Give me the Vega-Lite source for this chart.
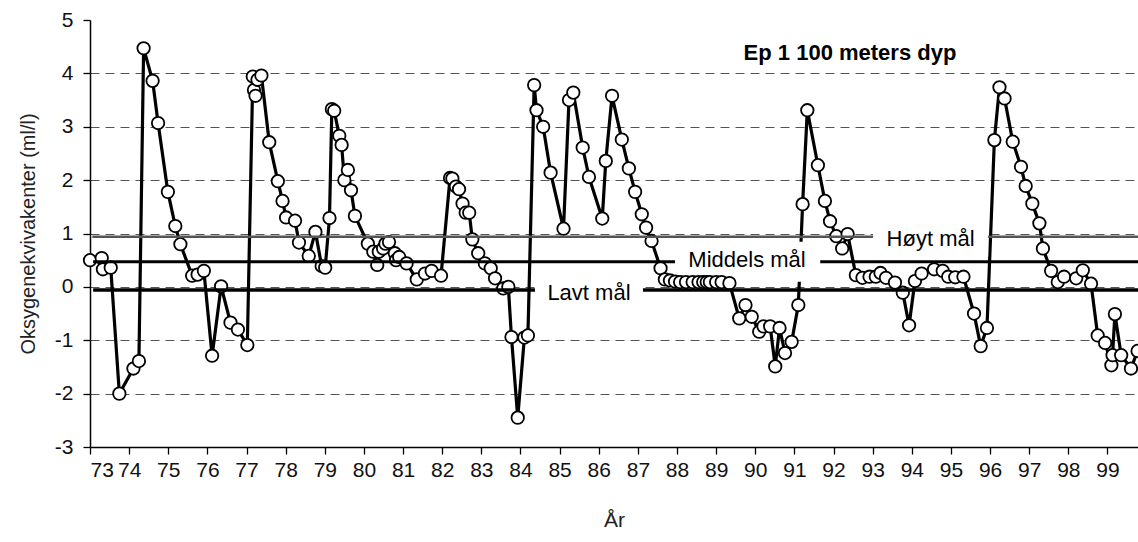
{
  "$schema": "https://vega.github.io/schema/vega-lite/v6.json",
  "width": 1048,
  "height": 427,
  "autosize": {"type": "none"},
  "padding": {"left": 90, "top": 20, "right": 0, "bottom": 95},
  "background": "white",
  "config": {
    "view": {"stroke": null},
    "font": "Liberation Sans",
    "axis": {"labelFont": "Liberation Sans", "titleFont": "Liberation Sans", "labelColor": "#111", "titleColor": "#222", "titleFontWeight": "normal"}
  },
  "datasets": {
    "obs": [
      {"year": 73.00, "o2": 0.50}, {"year": 73.30, "o2": 0.54}, {"year": 73.33, "o2": 0.33}, {"year": 73.53, "o2": 0.36},
      {"year": 73.75, "o2": -2.00}, {"year": 74.11, "o2": -1.53}, {"year": 74.25, "o2": -1.39}, {"year": 74.37, "o2": 4.47},
      {"year": 74.60, "o2": 3.86}, {"year": 74.74, "o2": 3.07}, {"year": 74.99, "o2": 1.78}, {"year": 75.18, "o2": 1.14},
      {"year": 75.31, "o2": 0.80}, {"year": 75.61, "o2": 0.21}, {"year": 75.75, "o2": 0.23}, {"year": 75.91, "o2": 0.30},
      {"year": 76.12, "o2": -1.29}, {"year": 76.35, "o2": 0.01}, {"year": 76.59, "o2": -0.67}, {"year": 76.78, "o2": -0.80},
      {"year": 77.02, "o2": -1.09}, {"year": 77.16, "o2": 3.94}, {"year": 77.19, "o2": 3.69}, {"year": 77.23, "o2": 3.58},
      {"year": 77.28, "o2": 3.88}, {"year": 77.38, "o2": 3.96}, {"year": 77.58, "o2": 2.71}, {"year": 77.80, "o2": 1.98},
      {"year": 77.92, "o2": 1.61}, {"year": 78.01, "o2": 1.30}, {"year": 78.24, "o2": 1.24}, {"year": 78.34, "o2": 0.83},
      {"year": 78.59, "o2": 0.58}, {"year": 78.76, "o2": 1.03}, {"year": 78.92, "o2": 0.39}, {"year": 79.01, "o2": 0.36},
      {"year": 79.12, "o2": 1.29}, {"year": 79.18, "o2": 3.33}, {"year": 79.24, "o2": 3.30}, {"year": 79.37, "o2": 2.83},
      {"year": 79.43, "o2": 2.66}, {"year": 79.50, "o2": 2.00}, {"year": 79.59, "o2": 2.19}, {"year": 79.67, "o2": 1.81},
      {"year": 79.77, "o2": 1.33}, {"year": 80.10, "o2": 0.81}, {"year": 80.24, "o2": 0.66}, {"year": 80.34, "o2": 0.41},
      {"year": 80.38, "o2": 0.66}, {"year": 80.49, "o2": 0.72}, {"year": 80.55, "o2": 0.81}, {"year": 80.64, "o2": 0.84},
      {"year": 80.79, "o2": 0.63}, {"year": 80.82, "o2": 0.50}, {"year": 80.90, "o2": 0.56}, {"year": 81.09, "o2": 0.44},
      {"year": 81.35, "o2": 0.14}, {"year": 81.56, "o2": 0.25}, {"year": 81.73, "o2": 0.30}, {"year": 81.97, "o2": 0.21},
      {"year": 82.20, "o2": 2.04}, {"year": 82.26, "o2": 2.03}, {"year": 82.35, "o2": 1.88}, {"year": 82.43, "o2": 1.83},
      {"year": 82.52, "o2": 1.56}, {"year": 82.60, "o2": 1.39}, {"year": 82.69, "o2": 1.39}, {"year": 82.77, "o2": 0.89},
      {"year": 82.92, "o2": 0.63}, {"year": 83.09, "o2": 0.44}, {"year": 83.24, "o2": 0.35}, {"year": 83.35, "o2": 0.16},
      {"year": 83.56, "o2": -0.03}, {"year": 83.69, "o2": 0.00}, {"year": 83.77, "o2": -0.94}, {"year": 83.93, "o2": -2.45},
      {"year": 84.10, "o2": -0.95}, {"year": 84.19, "o2": -0.91}, {"year": 84.35, "o2": 3.78}, {"year": 84.41, "o2": 3.31},
      {"year": 84.58, "o2": 3.00}, {"year": 84.77, "o2": 2.14}, {"year": 85.10, "o2": 1.09}, {"year": 85.24, "o2": 3.50},
      {"year": 85.35, "o2": 3.64}, {"year": 85.59, "o2": 2.61}, {"year": 85.75, "o2": 2.06}, {"year": 86.09, "o2": 1.28},
      {"year": 86.18, "o2": 2.36}, {"year": 86.34, "o2": 3.58}, {"year": 86.59, "o2": 2.76}, {"year": 86.77, "o2": 2.22},
      {"year": 86.93, "o2": 1.78}, {"year": 87.10, "o2": 1.36}, {"year": 87.21, "o2": 1.11}, {"year": 87.35, "o2": 0.86},
      {"year": 87.58, "o2": 0.35}, {"year": 87.69, "o2": 0.14}, {"year": 87.82, "o2": 0.12}, {"year": 87.95, "o2": 0.10},
      {"year": 88.08, "o2": 0.09}, {"year": 88.23, "o2": 0.09}, {"year": 88.40, "o2": 0.09}, {"year": 88.55, "o2": 0.09},
      {"year": 88.67, "o2": 0.09}, {"year": 88.76, "o2": 0.09}, {"year": 88.84, "o2": 0.09}, {"year": 89.00, "o2": 0.09},
      {"year": 89.14, "o2": 0.09}, {"year": 89.34, "o2": 0.07}, {"year": 89.59, "o2": -0.59}, {"year": 89.75, "o2": -0.34},
      {"year": 89.91, "o2": -0.56}, {"year": 90.10, "o2": -0.84}, {"year": 90.21, "o2": -0.74}, {"year": 90.38, "o2": -0.74},
      {"year": 90.51, "o2": -1.49}, {"year": 90.62, "o2": -0.77}, {"year": 90.76, "o2": -1.24}, {"year": 90.93, "o2": -1.03},
      {"year": 91.10, "o2": -0.34}, {"year": 91.21, "o2": 1.55}, {"year": 91.33, "o2": 3.31}, {"year": 91.60, "o2": 2.28},
      {"year": 91.78, "o2": 1.61}, {"year": 91.91, "o2": 1.23}, {"year": 92.07, "o2": 0.95}, {"year": 92.22, "o2": 0.72},
      {"year": 92.36, "o2": 0.99}, {"year": 92.57, "o2": 0.22}, {"year": 92.74, "o2": 0.17}, {"year": 92.92, "o2": 0.19},
      {"year": 93.08, "o2": 0.19}, {"year": 93.20, "o2": 0.26}, {"year": 93.34, "o2": 0.17}, {"year": 93.57, "o2": 0.08},
      {"year": 93.77, "o2": -0.11}, {"year": 93.93, "o2": -0.72}, {"year": 94.08, "o2": 0.11}, {"year": 94.25, "o2": 0.25},
      {"year": 94.57, "o2": 0.33}, {"year": 94.79, "o2": 0.30}, {"year": 94.93, "o2": 0.19}, {"year": 95.11, "o2": 0.18},
      {"year": 95.32, "o2": 0.19}, {"year": 95.59, "o2": -0.50}, {"year": 95.76, "o2": -1.11}, {"year": 95.92, "o2": -0.77},
      {"year": 96.11, "o2": 2.75}, {"year": 96.24, "o2": 3.74}, {"year": 96.37, "o2": 3.53}, {"year": 96.58, "o2": 2.72},
      {"year": 96.79, "o2": 2.25}, {"year": 96.91, "o2": 1.89}, {"year": 97.08, "o2": 1.56}, {"year": 97.26, "o2": 1.19},
      {"year": 97.35, "o2": 0.72}, {"year": 97.56, "o2": 0.30}, {"year": 97.73, "o2": 0.09}, {"year": 97.89, "o2": 0.19},
      {"year": 98.20, "o2": 0.16}, {"year": 98.37, "o2": 0.31}, {"year": 98.58, "o2": 0.06}, {"year": 98.75, "o2": -0.91},
      {"year": 98.94, "o2": -1.05}, {"year": 99.10, "o2": -1.47}, {"year": 99.13, "o2": -1.28}, {"year": 99.19, "o2": -0.51},
      {"year": 99.35, "o2": -1.28}, {"year": 99.60, "o2": -1.53}, {"year": 99.77, "o2": -1.20}
    ],
    "goals": [
      {"goal": "Høyt mål", "level": 0.94, "start": 73.06, "gapStart": 93.01, "gapEnd": 95.95, "end": 99.78, "labelX": 94.48, "labelY": 0.90, "kind": "high"},
      {"goal": "Middels mål", "level": 0.47, "start": 73.08, "gapStart": 87.95, "gapEnd": 91.66, "end": 99.78, "labelX": 89.79, "labelY": 0.50, "kind": "mid"},
      {"goal": "Lavt mål", "level": -0.06, "start": 73.08, "gapStart": 84.37, "gapEnd": 87.13, "end": 99.78, "labelX": 85.75, "labelY": -0.11, "kind": "low"}
    ],
    "heading": [
      {"text": "Ep 1 100 meters dyp", "x": 92.42, "y": 4.38}
    ]
  },
  "layer": [
    {
      "data": {"name": "obs"},
      "mark": {"type": "line", "color": "black", "strokeWidth": 3.2},
      "encoding": {
        "x": {"field": "year", "type": "quantitative", "scale": {"domain": [73, 99.78], "nice": false, "zero": false},
          "axis": {"values": [73,74,75,76,77,78,79,80,81,82,83,84,85,86,87,88,89,90,91,92,93,94,95,96,97,98,99],
            "format": "d", "grid": false, "title": "År", "titleFontSize": 21, "titlePadding": 29,
            "labelFontSize": 21, "labelPadding": 5, "tickSize": 7, "tickColor": "black", "domainColor": "black", "domainWidth": 1.5, "tickWidth": 1.3}},
        "y": {"field": "o2", "type": "quantitative", "scale": {"domain": [-3, 5], "nice": false, "zero": false},
          "axis": {"values": [-3,-2,-1,0,1,2,3,4,5], "labelExpr": "'' + datum.value", "title": "Oksygenekvivakenter (ml/l)", "titleFontSize": 20, "titlePadding": 16,
            "labelFontSize": 21, "labelPadding": 10, "tickSize": 7, "tickColor": "black", "domainColor": "black", "domainWidth": 1.5, "tickWidth": 1.3,
            "grid": true, "gridColor": "#555", "gridDash": [9, 6], "gridWidth": 1.2,
            "gridOpacity": {"condition": {"test": "datum.value === 5 || datum.value === -3", "value": 0}, "value": 1}}}
      }
    },
    {
      "data": {"name": "goals"},
      "mark": {"type": "rect", "color": "white", "height": 40},
      "encoding": {
        "x": {"field": "gapStart", "type": "quantitative"},
        "x2": {"field": "gapEnd"},
        "y": {"field": "level", "type": "quantitative"}
      }
    },
    {
      "data": {"name": "obs"},
      "mark": {"type": "point", "shape": "circle", "filled": true, "fill": "white", "stroke": "black", "strokeWidth": 1.8, "size": 155, "opacity": 1},
      "encoding": {
        "x": {"field": "year", "type": "quantitative"},
        "y": {"field": "o2", "type": "quantitative"}
      }
    },
    {
      "data": {"name": "goals"},
      "mark": {"type": "rule"},
      "encoding": {
        "x": {"field": "start", "type": "quantitative"},
        "x2": {"field": "gapStart"},
        "y": {"field": "level", "type": "quantitative"},
        "color": {"field": "kind", "type": "nominal", "scale": {"domain": ["high", "mid", "low"], "range": ["#555555", "black", "black"]}, "legend": null},
        "strokeWidth": {"field": "kind", "type": "nominal", "scale": {"domain": ["high", "mid", "low"], "range": [2.5, 3.5, 3.5]}, "legend": null}
      }
    },
    {
      "data": {"name": "goals"},
      "mark": {"type": "rule"},
      "encoding": {
        "x": {"field": "gapEnd", "type": "quantitative"},
        "x2": {"field": "end"},
        "y": {"field": "level", "type": "quantitative"},
        "color": {"field": "kind", "type": "nominal", "legend": null},
        "strokeWidth": {"field": "kind", "type": "nominal", "legend": null}
      }
    },
    {
      "data": {"name": "goals"},
      "mark": {"type": "text", "fontSize": 22, "font": "Liberation Sans", "color": "black", "align": "center", "baseline": "middle"},
      "encoding": {
        "x": {"field": "labelX", "type": "quantitative"},
        "y": {"field": "labelY", "type": "quantitative"},
        "text": {"field": "goal"}
      }
    },
    {
      "data": {"name": "heading"},
      "mark": {"type": "text", "fontSize": 22, "fontWeight": "bold", "font": "Liberation Sans", "color": "black", "align": "center", "baseline": "middle"},
      "encoding": {
        "x": {"field": "x", "type": "quantitative"},
        "y": {"field": "y", "type": "quantitative"},
        "text": {"field": "text"}
      }
    }
  ]
}
